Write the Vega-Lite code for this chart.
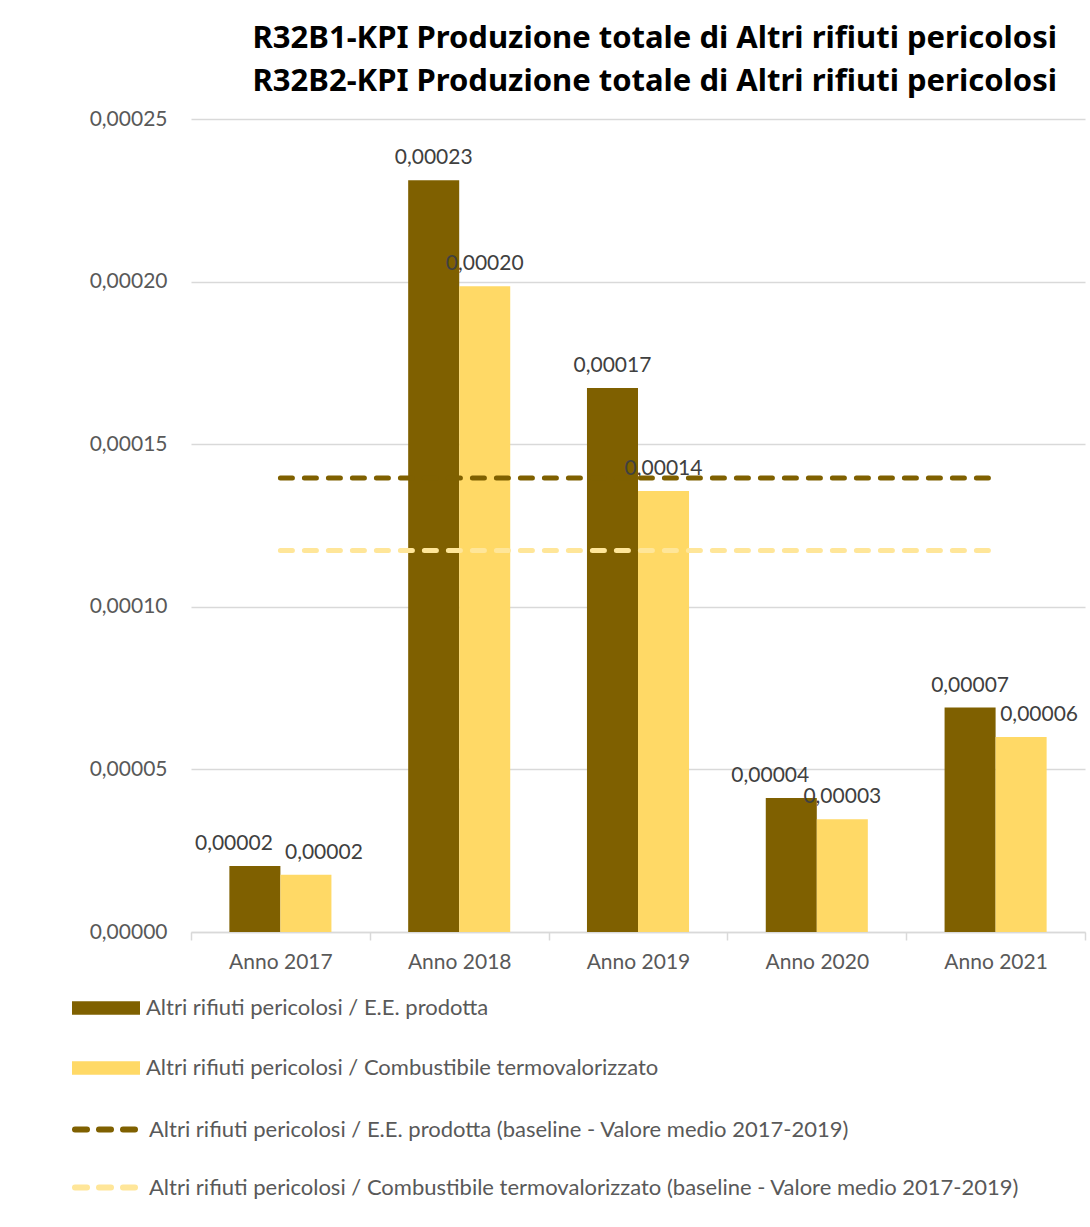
{
  "$schema": "https://vega.github.io/schema/vega-lite/v6.json",
  "width": 894,
  "height": 813,
  "autosize": {"type": "none"},
  "padding": {"left": 191, "top": 119, "right": 5, "bottom": 295},
  "background": "white",
  "title": {
    "text": ["R32B1-KPI Produzione totale di Altri rifiuti pericolosi", "R32B2-KPI Produzione totale di Altri rifiuti pericolosi"],
    "anchor": "end",
    "frame": "group",
    "font": "Noto Sans",
    "fontSize": 31,
    "fontWeight": "bold",
    "color": "#000000",
    "lineHeight": 43,
    "dx": -28,
    "offset": 10
  },
  "config": {
    "locale": {"number": {"decimal": ",", "thousands": ".", "grouping": [3], "currency": ["€", ""]}},
    "view": {"stroke": null},
    "font": "Lato"
  },
  "datasets": {
    "bars": [
      {"anno": "Anno 2017", "serie": "Altri rifiuti pericolosi  / E.E. prodotta", "valore": 0.0000203},
      {"anno": "Anno 2017", "serie": "Altri rifiuti pericolosi / Combustibile termovalorizzato", "valore": 0.0000176},
      {"anno": "Anno 2018", "serie": "Altri rifiuti pericolosi  / E.E. prodotta", "valore": 0.0002312},
      {"anno": "Anno 2018", "serie": "Altri rifiuti pericolosi / Combustibile termovalorizzato", "valore": 0.0001986},
      {"anno": "Anno 2019", "serie": "Altri rifiuti pericolosi  / E.E. prodotta", "valore": 0.0001673},
      {"anno": "Anno 2019", "serie": "Altri rifiuti pericolosi / Combustibile termovalorizzato", "valore": 0.0001356},
      {"anno": "Anno 2020", "serie": "Altri rifiuti pericolosi  / E.E. prodotta", "valore": 0.0000412},
      {"anno": "Anno 2020", "serie": "Altri rifiuti pericolosi / Combustibile termovalorizzato", "valore": 0.0000347},
      {"anno": "Anno 2021", "serie": "Altri rifiuti pericolosi  / E.E. prodotta", "valore": 0.0000690},
      {"anno": "Anno 2021", "serie": "Altri rifiuti pericolosi / Combustibile termovalorizzato", "valore": 0.0000600}
    ],
    "base": [
      {"anno": "Anno 2017", "serie": "Altri rifiuti pericolosi  / E.E. prodotta (baseline - Valore medio 2017-2019)", "valore": 0.0001396},
      {"anno": "Anno 2018", "serie": "Altri rifiuti pericolosi  / E.E. prodotta (baseline - Valore medio 2017-2019)", "valore": 0.0001396},
      {"anno": "Anno 2019", "serie": "Altri rifiuti pericolosi  / E.E. prodotta (baseline - Valore medio 2017-2019)", "valore": 0.0001396},
      {"anno": "Anno 2020", "serie": "Altri rifiuti pericolosi  / E.E. prodotta (baseline - Valore medio 2017-2019)", "valore": 0.0001396},
      {"anno": "Anno 2021", "serie": "Altri rifiuti pericolosi  / E.E. prodotta (baseline - Valore medio 2017-2019)", "valore": 0.0001396},
      {"anno": "Anno 2017", "serie": " Altri rifiuti pericolosi / Combustibile termovalorizzato (baseline - Valore medio 2017-2019)", "valore": 0.0001173},
      {"anno": "Anno 2018", "serie": " Altri rifiuti pericolosi / Combustibile termovalorizzato (baseline - Valore medio 2017-2019)", "valore": 0.0001173},
      {"anno": "Anno 2019", "serie": " Altri rifiuti pericolosi / Combustibile termovalorizzato (baseline - Valore medio 2017-2019)", "valore": 0.0001173},
      {"anno": "Anno 2020", "serie": " Altri rifiuti pericolosi / Combustibile termovalorizzato (baseline - Valore medio 2017-2019)", "valore": 0.0001173},
      {"anno": "Anno 2021", "serie": " Altri rifiuti pericolosi / Combustibile termovalorizzato (baseline - Valore medio 2017-2019)", "valore": 0.0001173}
    ]
  },
  "encoding": {
    "x": {
      "field": "anno",
      "type": "nominal",
      "scale": {"paddingInner": 0, "paddingOuter": 0},
      "axis": {
        "title": null,
        "labelAngle": 0,
        "labelFont": "Lato",
        "labelFontSize": 21,
        "labelColor": "#595959",
        "labelPadding": 11,
        "domainColor": "#D9D9D9",
        "domainWidth": 1.5,
        "tickColor": "#D9D9D9",
        "tickWidth": 1.5,
        "tickSize": 8,
        "tickBand": "extent",
        "grid": false
      }
    },
    "y": {
      "field": "valore",
      "type": "quantitative",
      "scale": {"domain": [0, 0.00025], "nice": false},
      "axis": {
        "title": null,
        "values": [0, 0.00005, 0.0001, 0.00015, 0.0002, 0.00025],
        "format": ".5f",
        "labelFont": "Lato",
        "labelFontSize": 21,
        "labelColor": "#595959",
        "labelPadding": 24,
        "domain": false,
        "ticks": false,
        "grid": true,
        "gridColor": "#D9D9D9",
        "gridWidth": 1.5
      }
    },
    "xOffset": {
      "field": "serie",
      "type": "nominal",
      "scale": {"domain": ["Altri rifiuti pericolosi  / E.E. prodotta", "Altri rifiuti pericolosi / Combustibile termovalorizzato"], "paddingInner": 0, "paddingOuter": 0.752}
    }
  },
  "layer": [
    {
      "data": {"name": "bars"},
      "mark": {"type": "bar"},
      "encoding": {
        "fill": {
          "field": "serie",
          "type": "nominal",
          "scale": {"domain": ["Altri rifiuti pericolosi  / E.E. prodotta", "Altri rifiuti pericolosi / Combustibile termovalorizzato"], "range": ["#7F6000", "#FFD966"]},
          "legend": {
            "title": null,
            "orient": "none",
            "legendX": -119,
            "legendY": 855,
            "symbolType": "M-1,-0.2H1V0.2H-1Z",
            "symbolSize": 4624,
            "symbolStrokeWidth": 0,
            "labelFont": "Lato",
            "labelFontSize": 22,
            "labelColor": "#595959",
            "labelLimit": 0,
            "labelOffset": 6,
            "rowPadding": 15
          }
        }
      }
    },
    {
      "data": {"name": "bars"},
      "transform": [{"filter": "datum.anno == 'Anno 2018' || datum.anno == 'Anno 2019' || (datum.anno == 'Anno 2020' && datum.serie != 'Altri rifiuti pericolosi  / E.E. prodotta') || (datum.anno == 'Anno 2021' && datum.serie == 'Altri rifiuti pericolosi  / E.E. prodotta')"}],
      "mark": {"type": "text", "baseline": "bottom", "dy": -12, "font": "Lato", "fontSize": 21, "color": "#404040"},
      "encoding": {
        "text": {"field": "valore", "type": "quantitative", "format": ".5f"}
      }
    },
    {
      "data": {"name": "bars"},
      "transform": [{"filter": "(datum.anno == 'Anno 2017' || datum.anno == 'Anno 2020') && datum.serie == 'Altri rifiuti pericolosi  / E.E. prodotta'"}],
      "mark": {"type": "text", "baseline": "bottom", "dy": -12, "dx": -21, "font": "Lato", "fontSize": 21, "color": "#404040"},
      "encoding": {
        "text": {"field": "valore", "type": "quantitative", "format": ".5f"}
      }
    },
    {
      "data": {"name": "bars"},
      "transform": [{"filter": "(datum.anno == 'Anno 2017' || datum.anno == 'Anno 2021') && datum.serie != 'Altri rifiuti pericolosi  / E.E. prodotta'"}],
      "mark": {"type": "text", "baseline": "bottom", "dy": -12, "dx": 18, "font": "Lato", "fontSize": 21, "color": "#404040"},
      "encoding": {
        "text": {"field": "valore", "type": "quantitative", "format": ".5f"}
      }
    },
    {
      "data": {"name": "base"},
      "mark": {"type": "line", "strokeDash": [12, 12], "strokeWidth": 5, "strokeCap": "round"},
      "encoding": {
        "xOffset": null,
        "stroke": {
          "field": "serie",
          "type": "nominal",
          "scale": {"domain": ["Altri rifiuti pericolosi  / E.E. prodotta (baseline - Valore medio 2017-2019)", " Altri rifiuti pericolosi / Combustibile termovalorizzato (baseline - Valore medio 2017-2019)"], "range": ["#7F6000", "#FFE699"]},
          "legend": {
            "title": null,
            "orient": "none",
            "legendX": -119,
            "legendY": 975,
            "symbolType": "stroke",
            "symbolSize": 4225,
            "symbolStrokeWidth": 6,
            "symbolDash": [12, 12],
            "labelFont": "Lato",
            "labelFontSize": 22,
            "labelColor": "#595959",
            "labelLimit": 0,
            "labelOffset": 6,
            "rowPadding": 10,
            "encode": {"symbols": {"update": {"strokeCap": {"value": "round"}}}}
          }
        }
      }
    }
  ]
}
